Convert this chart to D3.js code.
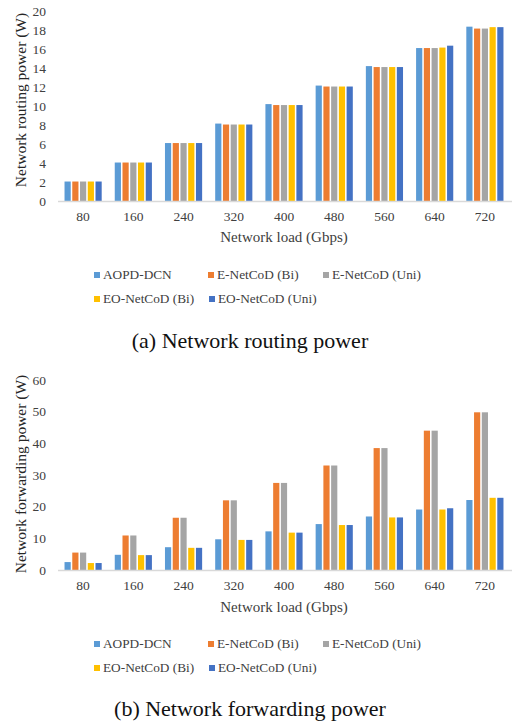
<!DOCTYPE html>
<html><head><meta charset="utf-8">
<script src="https://cdn.jsdelivr.net/npm/d3@7"></script>
<style>body{margin:0;background:#fff;}svg{display:block;}</style>
</head><body>
<script>
const categories = ["80","160","240","320","400","480","560","640","720"];
const seriesNames = ["AOPD-DCN","E-NetCoD (Bi)","E-NetCoD (Uni)","EO-NetCoD (Bi)","EO-NetCoD (Uni)"];
const colors = ["#5B9BD5","#ED7D31","#A5A5A5","#FFC000","#4472C4"];

// (a) Network routing power
const routingAOPD  = [2.05, 4.05, 6.1, 8.15, 10.2, 12.15, 14.2, 16.1, 18.35];
const routingEBi   = [2.05, 4.05, 6.1, 8.05, 10.1, 12.05, 14.1, 16.1, 18.15];
const routingEUni  = [2.05, 4.05, 6.1, 8.05, 10.1, 12.05, 14.1, 16.1, 18.15];
const routingEOBi  = [2.05, 4.05, 6.1, 8.05, 10.1, 12.05, 14.1, 16.15, 18.3];
const routingEOUni = [2.05, 4.05, 6.1, 8.05, 10.1, 12.05, 14.1, 16.35, 18.3];
const routingTicks = [0,2,4,6,8,10,12,14,16,18,20];

// (b) Network forwarding power
const fwdAOPD  = [2.5, 4.8, 7.2, 9.7, 12.2, 14.5, 16.9, 19.1, 22.1];
const fwdEBi   = [5.5, 10.9, 16.5, 22.0, 27.5, 33.0, 38.5, 44.0, 49.8];
const fwdEUni  = [5.5, 10.9, 16.5, 22.0, 27.5, 33.0, 38.5, 44.0, 49.8];
const fwdEOBi  = [2.2, 4.7, 7.0, 9.5, 11.8, 14.2, 16.6, 19.1, 22.8];
const fwdEOUni = [2.2, 4.7, 7.0, 9.5, 11.8, 14.2, 16.6, 19.5, 22.8];
const fwdTicks = [0,10,20,30,40,50,60];

const FONT = "'Liberation Serif','Times New Roman',serif";
const svg = d3.select("body").append("svg").attr("width",512).attr("height",722);

function drawChart(cfg){
  const g = svg.append("g");
  const x0 = d3.scaleBand().domain(categories).range([58,510]).paddingInner(0.26).paddingOuter(0.13);
  const x1 = d3.scaleBand().domain(d3.range(seriesNames.length)).range([0,x0.bandwidth()]).paddingInner(0.2);
  const y = d3.scaleLinear().domain([0,cfg.max]).range([cfg.y0,cfg.yTop]);

  // bars
  cfg.series.forEach((vals,si)=>{
    g.append("g").selectAll("rect").data(vals).join("rect")
      .attr("x",(d,i)=>x0(categories[i])+x1(si))
      .attr("y",d=>y(d))
      .attr("width",x1.bandwidth())
      .attr("height",d=>y(0)-y(d))
      .attr("fill",colors[si]);
  });

  // x axis
  const xa = g.append("g").attr("transform",`translate(0,${cfg.y0})`)
    .call(d3.axisBottom(x0).tickSize(0).tickPadding(10).tickSizeOuter(0));
  xa.select(".domain").attr("stroke","#d9d9d9").attr("stroke-width",1.3).attr("d","M58,0.5H512");
  xa.selectAll("text").attr("font-family",FONT).attr("font-size",13.5).attr("fill","#404040");

  // y axis
  const ya = g.append("g").attr("transform","translate(46,0)")
    .call(d3.axisLeft(y).tickValues(cfg.ticks).tickSize(0).tickPadding(0));
  ya.select(".domain").remove();
  ya.selectAll("text").attr("font-family",FONT).attr("font-size",13.5).attr("fill","#404040");

  // y label
  g.append("text").attr("transform",`translate(26,${cfg.yLabelY}) rotate(-90)`)
    .attr("text-anchor","middle").attr("font-family",FONT).attr("font-size",15.5).attr("fill","#262626")
    .text(cfg.yLabel);

  // x label
  g.append("text").attr("x",284).attr("y",cfg.xLabelY).attr("text-anchor","middle")
    .attr("font-family",FONT).attr("font-size",15).attr("fill","#404040").text("Network load (Gbps)");

  // legend
  const pos = [[94,0],[208,0],[323,0],[94,1],[209,1]];
  seriesNames.forEach((n,i)=>{
    const lx = pos[i][0], ly = cfg.legendY + pos[i][1]*24;
    g.append("rect").attr("x",lx).attr("y",ly-5).attr("width",6).attr("height",6).attr("fill",colors[i]);
    g.append("text").attr("x",lx+9).attr("y",ly+2).attr("font-family",FONT).attr("font-size",13.3)
      .attr("fill","#404040").text(n);
  });

  // caption
  g.append("text").attr("x",250).attr("y",cfg.captionY).attr("text-anchor","middle")
    .attr("font-family",FONT).attr("font-size",22).attr("fill","#111").text(cfg.caption);
}

drawChart({
  series:[routingAOPD,routingEBi,routingEUni,routingEOBi,routingEOUni],
  max:20, ticks:routingTicks, y0:201, yTop:11,
  yLabel:"Network routing power (W)", yLabelY:100, xLabelY:242,
  legendY:277, caption:"(a) Network routing power", captionY:348
});
drawChart({
  series:[fwdAOPD,fwdEBi,fwdEUni,fwdEOBi,fwdEOUni],
  max:60, ticks:fwdTicks, y0:570, yTop:380,
  yLabel:"Network forwarding power (W)", yLabelY:474, xLabelY:612,
  legendY:646, caption:"(b) Network forwarding power", captionY:716
});
</script>
</body></html>
